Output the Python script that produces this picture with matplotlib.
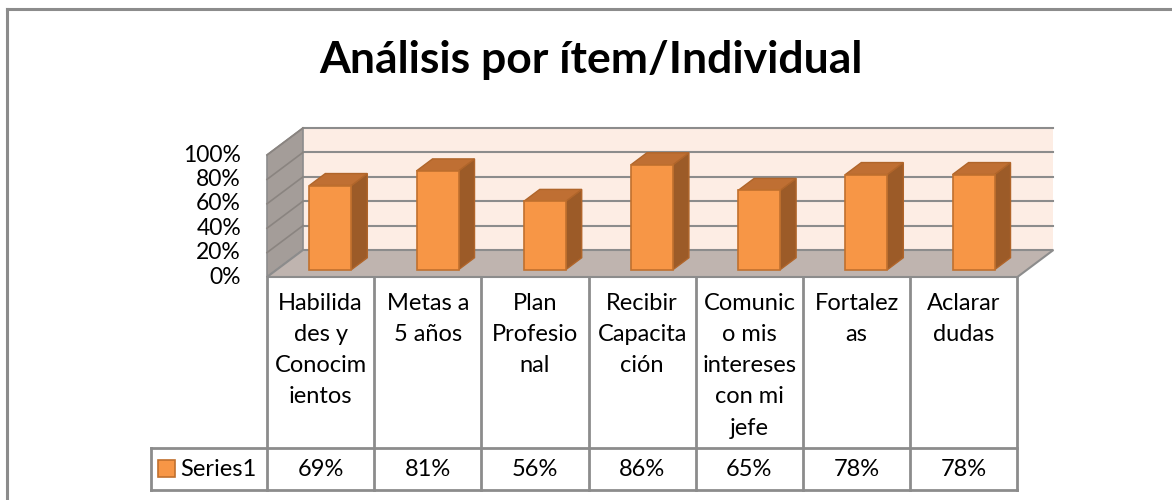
import matplotlib
matplotlib.use("Agg")
import matplotlib.pyplot as plt
from matplotlib.patches import Polygon, Rectangle

# ---- data ----
categories = ["Habilida\ndes y\nConocim\nientos", "Metas a\n5 años", "Plan\nProfesio\nnal",
              "Recibir\nCapacita\nción", "Comunic\no mis\nintereses\ncon mi\njefe",
              "Fortalez\nas", "Aclarar\ndudas"]
values = [0.69, 0.81, 0.56, 0.86, 0.65, 0.78, 0.78]
value_labels = ["69%", "81%", "56%", "86%", "65%", "78%", "78%"]
yticks = [0.0, 0.2, 0.4, 0.6, 0.8, 1.0]
ytick_labels = ["0%", "20%", "40%", "60%", "80%", "100%"]
series_name = "Series1"
title = "Análisis por ítem/Individual"

FONT = "Lato"
FS = 17
W, H = 1172, 500
X0, UX = 267.0, 107.2   # pixel of category origin, px per category
Y0, UY = 277.0, 122.0   # pixel of value 0 (front), px per 100%

def px(x):
    return (x - X0) / UX

def py(y):
    return (Y0 - y) / UY

fig = plt.figure(figsize=(W / 100, H / 100), dpi=100)
ax = fig.add_axes([0, 0, 1, 1])
ax.set_xlim(px(0), px(W))
ax.set_ylim(py(H), py(0))
ax.axis("off")

n = len(values)
DX, DY = 36 / UX, 27 / UY          # floor depth
F0 = 0.27                           # bar front depth fraction
ox, oy = F0 * DX, F0 * DY
bdx, bdy = 16 / UX, 12 / UY         # bar depth
bw = 42 / UX                        # bar width

grid_c = "#8c8c8c"

# back wall
ax.add_patch(Rectangle((DX, DY), n, 1.0, facecolor="#fdede4", edgecolor="none", zorder=1))
# left wall
ax.add_patch(Polygon([(0, 0), (0, 1), (DX, 1 + DY), (DX, DY)], closed=True,
                     facecolor="#a49d99", edgecolor=grid_c, lw=1.2, zorder=1))
# floor
ax.add_patch(Polygon([(0, 0), (n, 0), (n + DX, DY), (DX, DY)], closed=True,
                     facecolor="#bfb4af", edgecolor=grid_c, lw=1.5, zorder=2))
# gridlines
for t in yticks[1:]:
    ax.plot([DX, n + DX], [t + DY, t + DY], color=grid_c, lw=1.5, zorder=1.5)
    ax.plot([0, DX], [t, t + DY], color="#8a8480", lw=1.2, zorder=1.5)

# bars
xs = [i + 0.5 for i in range(n)]
for x, v in zip(xs, values):
    xl = x - bw / 2 + ox
    xr = x + bw / 2 + ox
    ax.add_patch(Polygon([(xr, oy), (xr, v + oy), (xr + bdx, v + oy + bdy), (xr + bdx, oy + bdy)],
                         closed=True, facecolor="#9c5b28", edgecolor="#b0652a", lw=1, zorder=3))
    ax.add_patch(Polygon([(xl, v + oy), (xr, v + oy), (xr + bdx, v + oy + bdy), (xl + bdx, v + oy + bdy)],
                         closed=True, facecolor="#bf6f33", edgecolor="#b0652a", lw=1, zorder=3))
ax.bar([x + ox for x in xs], values, width=bw, bottom=oy, color="#f79646",
       edgecolor="#c0702e", lw=1.2, zorder=4)

# y tick labels
for t, lab in zip(yticks, ytick_labels):
    ax.text(px(241), t, lab, ha="right", va="center", fontsize=16.5, family=FONT, color="black")

# title
ax.text(px(591), py(60), title, ha="center", va="center", fontsize=32, fontweight="bold",
        family=FONT, color="black")

# data table
tc = "#8c8c8c"
ax.plot([0, 0], [0, py(490)], color=tc, lw=2, zorder=5)
for i in range(1, n + 1):
    ax.plot([i, i], [0, py(490)], color=tc, lw=2, zorder=5)
ax.plot([px(151), n], [py(448), py(448)], color=tc, lw=2, zorder=5)
ax.plot([px(151), n], [py(490), py(490)], color=tc, lw=2, zorder=5)
ax.plot([px(151), px(151)], [py(448), py(490)], color=tc, lw=2, zorder=5)

for x, cat, vl in zip(xs, categories, value_labels):
    for j, line in enumerate(cat.split("\n")):
        ax.text(x, py(303 + 31.3 * j), line, ha="center", va="center", fontsize=FS,
                family=FONT, color="black")
    ax.text(x, py(469), vl, ha="center", va="center", fontsize=FS, family=FONT, color="black")

# legend key
ax.add_patch(Rectangle((px(158), py(477)), 17 / UX, 17 / UY, facecolor="#f79646",
                       edgecolor="#c0702e", lw=1.2, zorder=6))
ax.text(px(180), py(469), series_name, ha="left", va="center", fontsize=FS, family=FONT,
        color="black")

# outer chart border
ax.plot([px(7), px(7)], [py(9), py(H + 5)], color="#8c8c8c", lw=2.2, zorder=6, clip_on=False)
ax.plot([px(7), px(W + 5)], [py(9), py(9)], color="#8c8c8c", lw=2.2, zorder=6, clip_on=False)

fig.savefig("out.png", dpi=100)
